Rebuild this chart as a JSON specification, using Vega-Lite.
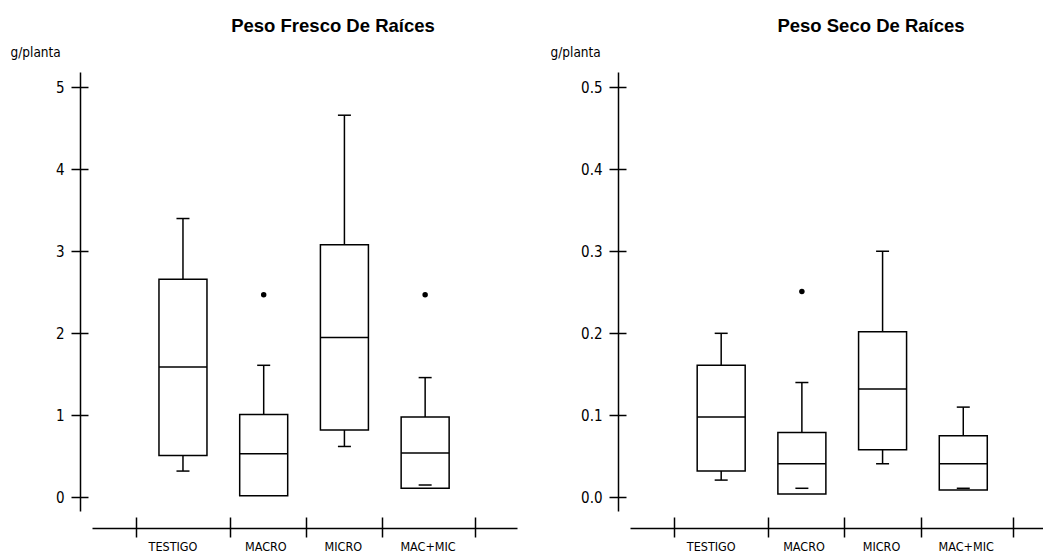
{
  "$schema": "https://vega.github.io/schema/vega-lite/v6.json",
  "background": "white",
  "padding": {"left": 10, "top": 16, "right": 0, "bottom": 0},
  "spacing": 33,
  "config": {
    "view": {"stroke": null},
    "font": "DejaVu Sans Condensed, sans-serif",
    "axis": {"grid": false, "domainColor": "black", "domainWidth": 1.5, "tickColor": "black", "tickWidth": 1.5, "labelColor": "black", "titleColor": "black"}
  },
  "datasets": {
    "fresco": [
      {"grupo": "TESTIGO", "pos": 1, "lo": 0.32, "q1": 0.51, "med": 1.59, "q3": 2.66, "hi": 3.40},
      {"grupo": "MACRO", "pos": 2, "lo": null, "q1": 0.02, "med": 0.53, "q3": 1.01, "hi": 1.61},
      {"grupo": "MICRO", "pos": 3, "lo": 0.62, "q1": 0.82, "med": 1.95, "q3": 3.08, "hi": 4.66},
      {"grupo": "MAC+MIC", "pos": 4, "lo": 0.15, "q1": 0.11, "med": 0.54, "q3": 0.98, "hi": 1.46}
    ],
    "fresco_out": [
      {"grupo": "MACRO", "pos": 2, "v": 2.47},
      {"grupo": "MAC+MIC", "pos": 4, "v": 2.47}
    ],
    "seco": [
      {"grupo": "TESTIGO", "pos": 1, "lo": 0.021, "q1": 0.032, "med": 0.098, "q3": 0.161, "hi": 0.200},
      {"grupo": "MACRO", "pos": 2, "lo": 0.011, "q1": 0.004, "med": 0.041, "q3": 0.079, "hi": 0.140},
      {"grupo": "MICRO", "pos": 3, "lo": 0.041, "q1": 0.058, "med": 0.132, "q3": 0.202, "hi": 0.300},
      {"grupo": "MAC+MIC", "pos": 4, "lo": 0.011, "q1": 0.009, "med": 0.041, "q3": 0.075, "hi": 0.110}
    ],
    "seco_out": [
      {"grupo": "MACRO", "pos": 2, "v": 0.251}
    ]
  },
  "hconcat": [
    {
      "width": 425,
      "height": 439,
      "title": {"text": "Peso Fresco De Raíces", "font": "Liberation Sans", "fontSize": 18.5, "fontWeight": "bold", "color": "black", "anchor": "start", "frame": "group", "align": "center", "dx": 241, "offset": 10},
      "resolve": {"axis": {"x": "independent", "y": "independent"}},
      "layer": [
        {
          "data": {"name": "fresco"},
          "mark": {"type": "bar", "size": 48, "fill": "white", "stroke": "black", "strokeWidth": 1.5},
          "encoding": {
            "x": {"field": "pos", "type": "quantitative", "scale": {"domain": [-0.065, 5.076], "nice": false, "zero": false},
              "axis": {"orient": "bottom", "offset": 17, "values": [0.42, 1.58, 2.52, 3.47, 4.62, 0.87, 2.02, 2.98, 4.03], "tickSize": 9,
                "tickOpacity": {"condition": {"test": "datum.value==0.42||datum.value==1.58||datum.value==2.52||datum.value==3.47||datum.value==4.62", "value": 1}, "value": 0},
                "labelExpr": "datum.value==0.87?'TESTIGO':datum.value==2.02?'MACRO':datum.value==2.98?'MICRO':datum.value==4.03?'MAC+MIC':''",
                "labelPadding": 3, "labelFontSize": 12.5, "labelFlush": false, "labelOverlap": false, "labelBound": false, "title": null}},
            "y": {"field": "q1", "type": "quantitative", "scale": {"domain": [-0.167, 5.187], "nice": false, "zero": false},
              "axis": {"orient": "left", "offset": 12, "values": [0, 1, 2, 3, 4, 5], "format": "d", "tickSize": 9, "labelPadding": 7, "labelFontSize": 15,
                "title": "g/planta", "titleAngle": 0, "titleAlign": "left", "titleBaseline": "middle", "titleX": -70, "titleY": -20, "titleFontSize": 13.5, "titleFontWeight": "normal"}},
            "y2": {"field": "q3"}
          }
        },
        {
          "data": {"name": "fresco"},
          "mark": {"type": "rule", "color": "black", "strokeWidth": 1.5},
          "encoding": {
            "x": {"field": "pos", "type": "quantitative",
              "axis": {"orient": "bottom", "offset": 17, "values": [0.42, 1.58, 2.52, 3.47, 4.62], "tickSize": -11, "domain": false, "labels": false, "title": null}},
            "y": {"field": "q3", "type": "quantitative",
              "axis": {"orient": "left", "offset": 12, "values": [0, 1, 2, 3, 4, 5], "tickSize": -8, "domain": false, "labels": false, "title": null}},
            "y2": {"field": "hi"}
          }
        },
        {
          "data": {"name": "fresco"},
          "transform": [{"filter": "isValid(datum.lo) && datum.lo < datum.q1"}],
          "mark": {"type": "rule", "color": "black", "strokeWidth": 1.5},
          "encoding": {
            "x": {"field": "pos", "type": "quantitative", "axis": null},
            "y": {"field": "lo", "type": "quantitative", "axis": null},
            "y2": {"field": "q1"}
          }
        },
        {
          "data": {"name": "fresco"},
          "mark": {"type": "tick", "orient": "horizontal", "size": 13, "thickness": 1.5, "color": "black", "opacity": 1},
          "encoding": {
            "x": {"field": "pos", "type": "quantitative", "axis": null},
            "y": {"field": "hi", "type": "quantitative", "axis": null}
          }
        },
        {
          "data": {"name": "fresco"},
          "transform": [{"filter": "isValid(datum.lo)"}],
          "mark": {"type": "tick", "orient": "horizontal", "size": 13, "thickness": 1.5, "color": "black", "opacity": 1},
          "encoding": {
            "x": {"field": "pos", "type": "quantitative", "axis": null},
            "y": {"field": "lo", "type": "quantitative", "axis": null}
          }
        },
        {
          "data": {"name": "fresco"},
          "mark": {"type": "tick", "orient": "horizontal", "size": 48, "thickness": 1.5, "color": "black", "opacity": 1},
          "encoding": {
            "x": {"field": "pos", "type": "quantitative", "axis": null},
            "y": {"field": "med", "type": "quantitative", "axis": null}
          }
        },
        {
          "data": {"name": "fresco_out"},
          "mark": {"type": "circle", "size": 30, "color": "black", "opacity": 1},
          "encoding": {
            "x": {"field": "pos", "type": "quantitative", "axis": null},
            "y": {"field": "v", "type": "quantitative", "axis": null}
          }
        }
      ]
    },
    {
      "width": 413,
      "height": 439,
      "title": {"text": "Peso Seco De Raíces", "font": "Liberation Sans", "fontSize": 18.5, "fontWeight": "bold", "color": "black", "anchor": "start", "frame": "group", "align": "center", "dx": 241, "offset": 10},
      "resolve": {"axis": {"x": "independent", "y": "independent"}},
      "layer": [
        {
          "data": {"name": "seco"},
          "mark": {"type": "bar", "size": 48, "fill": "white", "stroke": "black", "strokeWidth": 1.5},
          "encoding": {
            "x": {"field": "pos", "type": "quantitative", "scale": {"domain": [-0.068, 4.926], "nice": false, "zero": false},
              "axis": {"orient": "bottom", "offset": 17, "values": [0.42, 1.58, 2.52, 3.47, 4.62, 0.87, 2.02, 2.98, 4.03], "tickSize": 9,
                "tickOpacity": {"condition": {"test": "datum.value==0.42||datum.value==1.58||datum.value==2.52||datum.value==3.47||datum.value==4.62", "value": 1}, "value": 0},
                "labelExpr": "datum.value==0.87?'TESTIGO':datum.value==2.02?'MACRO':datum.value==2.98?'MICRO':datum.value==4.03?'MAC+MIC':''",
                "labelPadding": 3, "labelFontSize": 12.5, "labelFlush": false, "labelOverlap": false, "labelBound": false, "title": null}},
            "y": {"field": "q1", "type": "quantitative", "scale": {"domain": [-0.0167, 0.5187], "nice": false, "zero": false},
              "axis": {"orient": "left", "offset": 12, "values": [0, 0.1, 0.2, 0.3, 0.4, 0.5], "format": ".1f", "tickSize": 9, "labelPadding": 7, "labelFontSize": 15,
                "title": "g/planta", "titleAngle": 0, "titleAlign": "left", "titleBaseline": "middle", "titleX": -68, "titleY": -20, "titleFontSize": 13.5, "titleFontWeight": "normal"}},
            "y2": {"field": "q3"}
          }
        },
        {
          "data": {"name": "seco"},
          "mark": {"type": "rule", "color": "black", "strokeWidth": 1.5},
          "encoding": {
            "x": {"field": "pos", "type": "quantitative",
              "axis": {"orient": "bottom", "offset": 17, "values": [0.42, 1.58, 2.52, 3.47, 4.62], "tickSize": -11, "domain": false, "labels": false, "title": null}},
            "y": {"field": "q3", "type": "quantitative",
              "axis": {"orient": "left", "offset": 12, "values": [0, 0.1, 0.2, 0.3, 0.4, 0.5], "tickSize": -8, "domain": false, "labels": false, "title": null}},
            "y2": {"field": "hi"}
          }
        },
        {
          "data": {"name": "seco"},
          "transform": [{"filter": "isValid(datum.lo) && datum.lo < datum.q1"}],
          "mark": {"type": "rule", "color": "black", "strokeWidth": 1.5},
          "encoding": {
            "x": {"field": "pos", "type": "quantitative", "axis": null},
            "y": {"field": "lo", "type": "quantitative", "axis": null},
            "y2": {"field": "q1"}
          }
        },
        {
          "data": {"name": "seco"},
          "mark": {"type": "tick", "orient": "horizontal", "size": 13, "thickness": 1.5, "color": "black", "opacity": 1},
          "encoding": {
            "x": {"field": "pos", "type": "quantitative", "axis": null},
            "y": {"field": "hi", "type": "quantitative", "axis": null}
          }
        },
        {
          "data": {"name": "seco"},
          "transform": [{"filter": "isValid(datum.lo)"}],
          "mark": {"type": "tick", "orient": "horizontal", "size": 13, "thickness": 1.5, "color": "black", "opacity": 1},
          "encoding": {
            "x": {"field": "pos", "type": "quantitative", "axis": null},
            "y": {"field": "lo", "type": "quantitative", "axis": null}
          }
        },
        {
          "data": {"name": "seco"},
          "mark": {"type": "tick", "orient": "horizontal", "size": 48, "thickness": 1.5, "color": "black", "opacity": 1},
          "encoding": {
            "x": {"field": "pos", "type": "quantitative", "axis": null},
            "y": {"field": "med", "type": "quantitative", "axis": null}
          }
        },
        {
          "data": {"name": "seco_out"},
          "mark": {"type": "circle", "size": 30, "color": "black", "opacity": 1},
          "encoding": {
            "x": {"field": "pos", "type": "quantitative", "axis": null},
            "y": {"field": "v", "type": "quantitative", "axis": null}
          }
        }
      ]
    }
  ]
}
